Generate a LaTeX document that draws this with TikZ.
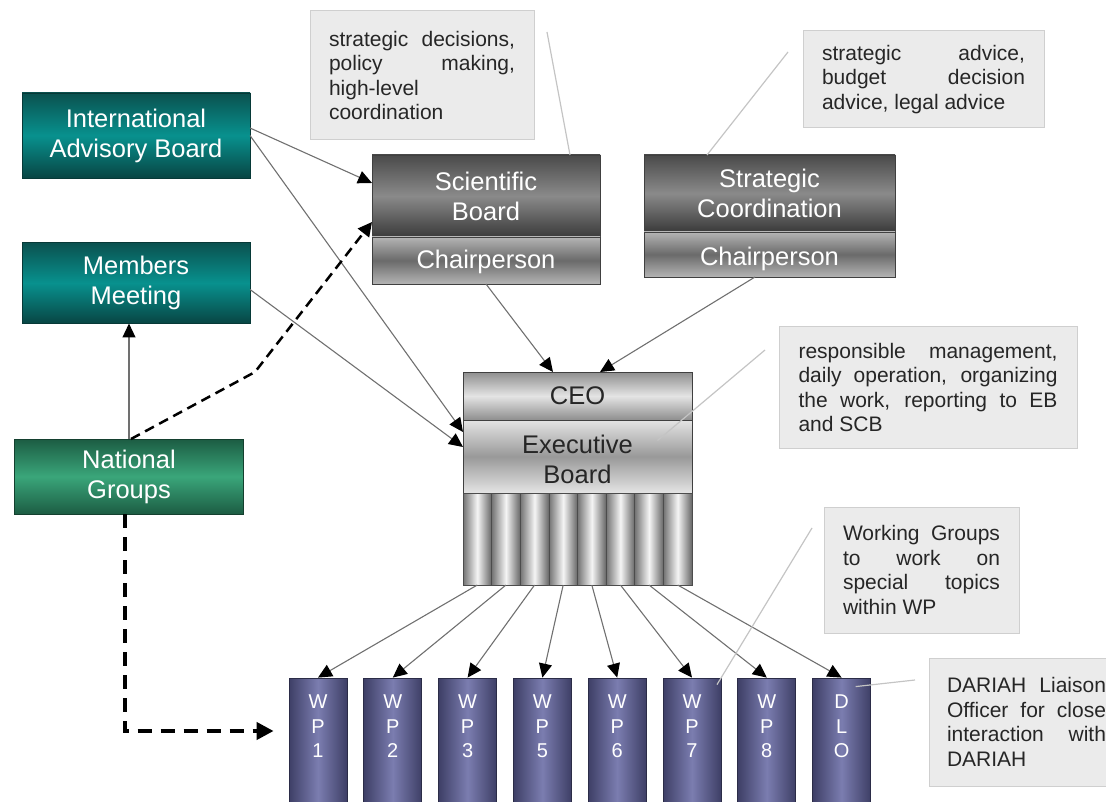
\documentclass[tikz,border=0pt]{standalone}
\usepackage{fontspec}
\setmainfont{Liberation Sans}
\usetikzlibrary{
    arrows.meta,
    calc,
    positioning
}

\definecolor{tealedge}{HTML}{0A514F}
\definecolor{tealmid}{HTML}{08918E}
\definecolor{greenedge}{HTML}{1C5C43}
\definecolor{greenmid}{HTML}{3AA67A}
\definecolor{darktop}{HTML}{4A4A4A}
\definecolor{darkmid}{HTML}{8A8A8A}
\definecolor{darkbot}{HTML}{3A3A3A}
\definecolor{chairedge}{HTML}{B4B4B4}
\definecolor{chairmid}{HTML}{6A6A6A}
\definecolor{lightedge}{HTML}{8E8E8E}
\definecolor{lightmid}{HTML}{E4E4E4}
\definecolor{wpedge}{HTML}{3E3F66}
\definecolor{wpmid}{HTML}{7B7DB0}
\definecolor{notefill}{HTML}{EBEBEB}
\definecolor{noteline}{HTML}{CFCFCF}
\definecolor{arrowgray}{HTML}{707070}
\definecolor{leadergray}{HTML}{C4C4C4}

\newcommand{\bandfont}{\fontsize{25.5}{30}\selectfont}
\newcommand{\wpfont}{\fontsize{20}{24.5}\selectfont}
\newcommand{\notefont}{\fontsize{21}{24.5}\selectfont}
\newcommand{\jline}[2]{\makebox[#1][s]{#2}}
\newcommand{\lowered}[2]{\raisebox{-#1}[\height][\depth]{#2}}

\begin{document}
\begin{tikzpicture}[x=1pt, y=-1pt,
        band/.style={draw=black!75, line width=0.8pt, inner sep=0pt, outer sep=0pt, align=center, font=\bandfont},
        tealband/.style={band, draw=tealedge!70!black, top color=tealedge, bottom color=tealedge!85!black, middle color=tealmid, text=white, minimum width=228pt},
        greenband/.style={band, draw=greenedge!70!black, top color=greenedge, bottom color=greenedge, middle color=greenmid, text=white, minimum width=229pt},
        darkband/.style={band, top color=darktop, bottom color=darkbot, middle color=darkmid, text=white},
        chairband/.style={band, top color=chairedge, bottom color=chairedge, middle color=chairmid, text=white},
        ceoband/.style={band, top color=lightedge, bottom color=lightedge, middle color=lightmid, text=black!85, minimum width=229pt},
        execband/.style={band, top color=lightmid, bottom color=lightmid, middle color=black!40, text=black!85, minimum width=229pt},
        colbar/.style={draw=black!70, line width=0.6pt, inner sep=0pt, outer sep=0pt, left color=black!55, right color=black!60, middle color=black!4, minimum width=28.625pt, minimum height=92pt},
        wpbox/.style={draw=wpedge!70!black, line width=0.8pt, inner sep=0pt, left color=wpedge, right color=wpedge, middle color=wpmid, minimum width=58pt, minimum height=127pt},
        wptext/.style={anchor=north, yshift=-14pt, align=center, font=\wpfont, text=white},
        note/.style={fill=notefill, draw=noteline, line width=1pt, inner sep=0pt, align=left, font=\notefont, text=black!85},
        link/.style={draw=arrowgray, line width=1.1pt, -{Triangle[length=14pt, width=13pt, color=black]}},
        dashlink/.style={draw=black, line width=2.5pt, dash pattern=on 10pt off 6pt, -{Triangle[length=14pt, width=14pt]}},
        leader/.style={draw=leadergray, line width=1.2pt}
    ]
                        \path[use as bounding box] (0, 0) rectangle (1106, 802);
                        \clip (0, 0) rectangle (1106, 802);

                        \node[tealband, minimum height=85pt] (iab) at (136, 135.5) {International\\Advisory Board};
                        \node[tealband, minimum height=81pt] (mm) at (136, 283) {Members\\Meeting};
                        \node[greenband, minimum height=75pt] (ng) at (129, 476.5) {National\\Groups};

                        \node[darkband, minimum width=228pt, minimum height=82pt] (sbtop) at (486, 196) {Scientific\\Board};
                        \node[chairband, minimum width=228pt, minimum height=47pt, below=0pt of sbtop] (sbchair) {\lowered{1pt}{Chairperson}};

                        \node[darkband, minimum width=251pt, minimum height=77pt] (sctop) at (769.5, 193.5) {Strategic\\Coordination};
                        \node[chairband, minimum width=251pt, minimum height=45pt, below=0pt of sctop] (scchair) {\lowered{4pt}{Chairperson}};

                        \node[ceoband, minimum height=48pt] (ceo) at (577.5, 396) {CEO};
                        \node[execband, minimum height=73pt, below=0pt of ceo] (exec) {\lowered{2.5pt}{Executive}\\\lowered{2.5pt}{Board}};

                        \node[colbar, anchor=north west] (col1) at (exec.south west) {};
                        \node[colbar, right=0pt of col1] (col2) {};
                        \node[colbar, right=0pt of col2] (col3) {};
                        \node[colbar, right=0pt of col3] (col4) {};
                        \node[colbar, right=0pt of col4] (col5) {};
                        \node[colbar, right=0pt of col5] (col6) {};
                        \node[colbar, right=0pt of col6] (col7) {};
                        \node[colbar, right=0pt of col7] (col8) {};

                        \node[wpbox, label={[wptext]north:{W\\P\\1}}] (wp1) at (318, 741.5) {};
                        \node[wpbox, right=16pt of wp1, label={[wptext]north:{W\\P\\2}}] (wp2) {};
                        \node[wpbox, right=16pt of wp2, label={[wptext]north:{W\\P\\3}}] (wp3) {};
                        \node[wpbox, right=16pt of wp3, label={[wptext]north:{W\\P\\5}}] (wp5) {};
                        \node[wpbox, right=16pt of wp5, label={[wptext]north:{W\\P\\6}}] (wp6) {};
                        \node[wpbox, right=16pt of wp6, label={[wptext]north:{W\\P\\7}}] (wp7) {};
                        \node[wpbox, right=16pt of wp7, label={[wptext]north:{W\\P\\8}}] (wp8) {};
                        \node[wpbox, right=16pt of wp8, label={[wptext]north:{D\\L\\O}}] (dlo) {};

                        \node[note, minimum width=224pt, minimum height=129pt] (sbnote) at (422, 75.5)
                        {\jline{186pt}{strategic decisions,}\\\jline{186pt}{policy making,}\\high-level\\coordination};
                        \node[note, minimum width=241pt, minimum height=97pt] (scnote) at (923.5, 79.5)
                        {\jline{203pt}{strategic advice,}\\\jline{203pt}{budget decision}\\advice, legal advice};
                        \node[note, minimum width=298pt, minimum height=121pt] (execnote) at (928, 387.5)
                        {\jline{259pt}{responsible management,}\\\jline{259pt}{daily operation, organizing}\\\jline{259pt}{the work, reporting to EB}\\and SCB};
                        \node[note, minimum width=195pt, minimum height=126pt] (wpnote) at (921.5, 570)
                        {\jline{157pt}{Working Groups}\\\jline{157pt}{to work on}\\\jline{157pt}{special topics}\\within WP};
                        \node[note, minimum width=195pt, minimum height=128pt] (dlonote) at (1026.5, 722)
                        {\jline{159pt}{DARIAH Liaison}\\\jline{159pt}{Officer for close}\\\jline{159pt}{interaction with}\\DARIAH};

                        \draw[link] ([yshift=7.5pt]iab.east) -- ([yshift=13pt]sbtop.west);
                        \draw[link] (iab.east) -- ([yshift=24.5pt]exec.west);
                        \draw[link] ([yshift=-6.5pt]mm.east) -- ([yshift=9.5pt]exec.west);
                        \draw[link] (ng.north) -- (ng.north |- mm.south);

                        \coordinate (ngbend) at (255, 372);
                        \draw[dashlink] ([xshift=2pt]ng.north) -- (ngbend) -- ([yshift=-26pt]sbtop.west);
                        \draw[dashlink, line width=4pt, dash pattern=on 14pt off 9pt, -{Triangle[length=17pt, width=17pt]}]
                        ([xshift=-4.5pt]ng.south) |- ([xshift=-15pt, yshift=10.5pt]wp1.west);

                        \draw[link] (sbchair.south) -- ([xshift=-24.5pt]ceo.north);
                        \draw[link] ([xshift=-14.5pt]scchair.south) -- ([xshift=22.5pt]ceo.north);

                        \draw[link] (col1.south) -- (wp1.north);
                        \draw[link] (col2.south) -- (wp2.north);
                        \draw[link] (col3.south) -- (wp3.north);
                        \draw[link] (col4.south) -- (wp5.north);
                        \draw[link] (col5.south) -- (wp6.north);
                        \draw[link] (col6.south) -- (wp7.north);
                        \draw[link] (col7.south) -- (wp8.north);
                        \draw[link] (col8.south) -- (dlo.north);

                        \coordinate (sbnotetip) at (547, 32);
                        \coordinate (scnotetip) at (788, 52);
                        \coordinate (execnotetip) at (765, 350);
                        \coordinate (wpnotetip) at (812, 528);
                        \coordinate (dlonotetip) at (915, 680);
                        \draw[leader] (sbnotetip) -- ([xshift=84pt]sbtop.north);
                        \draw[leader] (scnotetip) -- ([xshift=-62.5pt]sctop.north);
                        \draw[leader] (execnotetip) -- ([xshift=80pt, yshift=16pt]exec.center);
                        \draw[leader] (wpnotetip) -- ([xshift=25pt, yshift=-7pt]wp7.north);
                        \draw[leader] (dlonotetip) -- ([xshift=14pt, yshift=-9pt]dlo.north);
\end{tikzpicture}
\end{document}
